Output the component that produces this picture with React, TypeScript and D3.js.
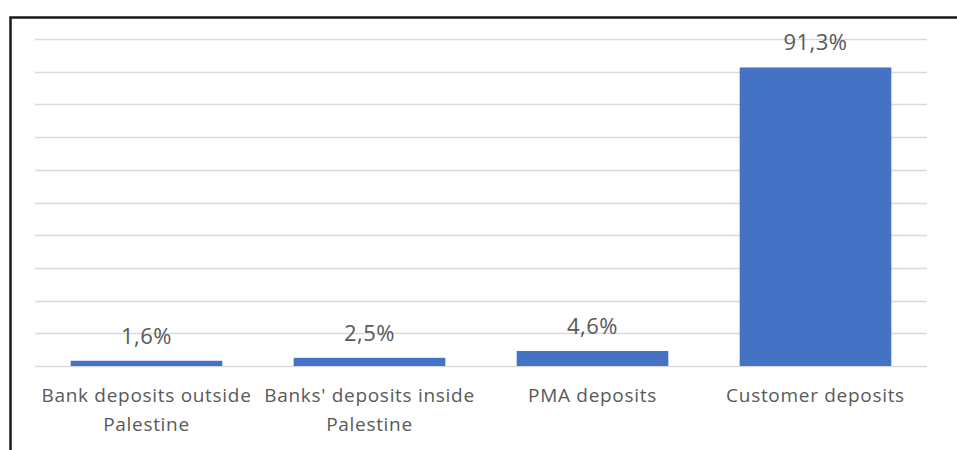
import React, { useEffect, useRef } from "react";
import * as d3 from "d3";

const categories = [
  "Bank deposits outside Palestine",
  "Banks' deposits inside Palestine",
  "PMA deposits",
  "Customer deposits",
];
const labelLines = [
  ["Bank deposits outside", "Palestine"],
  ["Banks' deposits inside", "Palestine"],
  ["PMA deposits"],
  ["Customer deposits"],
];
const values = [1.6, 2.5, 4.6, 91.3];
const gridTicks = [0, 10, 20, 30, 40, 50, 60, 70, 80, 90, 100];

const W = 957;
const H = 450;

const App = () => {
  const ref = useRef<SVGSVGElement>(null);

  useEffect(() => {
    const svg = d3.select(ref.current);
    svg.selectAll("*").remove();

    const left = 35;
    const right = 927;
    const top = 39;
    const bottom = 366;

    const x = d3
      .scaleBand()
      .domain(categories)
      .range([left, right])
      .paddingInner(0.32)
      .paddingOuter(0.16);
    const y = d3.scaleLinear().domain([0, 100]).range([bottom, top]);

    svg.append("rect").attr("width", W).attr("height", H).attr("fill", "#fff");

    // frame (left + top edges only visible)
    svg
      .append("path")
      .attr("d", `M10.5,${H} V17.5 H${W}`)
      .attr("fill", "none")
      .attr("stroke", "#1a1a1a")
      .attr("stroke-width", 2.5);

    svg
      .append("g")
      .selectAll("line")
      .data(gridTicks)
      .enter()
      .append("line")
      .attr("x1", left)
      .attr("x2", right)
      .attr("y1", (d) => Math.round(y(d)) + 0.5)
      .attr("y2", (d) => Math.round(y(d)) + 0.5)
      .attr("stroke", "#d9d9d9")
      .attr("stroke-width", 1.5);

    svg
      .append("g")
      .selectAll("rect")
      .data(values)
      .enter()
      .append("rect")
      .attr("x", (d, i) => x(categories[i])!)
      .attr("width", x.bandwidth())
      .attr("y", (d) => y(d))
      .attr("height", (d) => y(0) - y(d))
      .attr("fill", "#4472c4");

    const fmt = (v: number) => v.toFixed(1).replace(".", ",") + "%";

    svg
      .append("g")
      .selectAll("text")
      .data(values)
      .enter()
      .append("text")
      .attr("x", (d, i) => x(categories[i])! + x.bandwidth() / 2)
      .attr("y", (d) => y(d) - 17)
      .attr("text-anchor", "middle")
      .attr("font-family", "'Open Sans', sans-serif")
      .attr("font-size", 22)
      .attr("letter-spacing", 0.5)
      .attr("fill", "#595959")
      .text(fmt);

    const cat = svg
      .append("g")
      .selectAll("text")
      .data(labelLines)
      .enter()
      .append("text")
      .attr("text-anchor", "middle")
      .attr("font-family", "'Open Sans', sans-serif")
      .attr("font-size", 19)
      .attr("letter-spacing", 0.7)
      .attr("fill", "#595959");
    cat.each(function (lines, i) {
      const t = d3.select(this);
      lines.forEach((ln, j) => {
        t.append("tspan")
          .attr("x", x(categories[i])! + x.bandwidth() / 2)
          .attr("y", 402 + j * 29)
          .text(ln);
      });
    });
  }, []);

  return (
    <svg
      ref={ref}
      width={W}
      height={H}
      style={{ position: "absolute", left: 0, top: 0 }}
    />
  );
};

export default App;
